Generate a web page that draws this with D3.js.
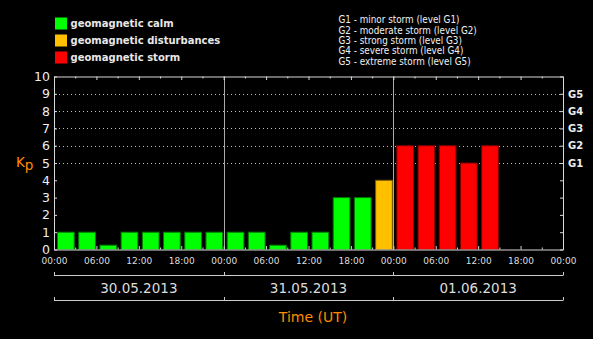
<!DOCTYPE html>
<html>
<head>
<meta charset="utf-8">
<script src="https://cdn.jsdelivr.net/npm/d3@7/dist/d3.min.js"></script>
<style>
  html, body { margin: 0; padding: 0; background: #000; }
  svg { display: block; }
</style>
</head>
<body>
<svg id="chart" width="593" height="339"></svg>
<script>
// Planetary Kp index, one value per 3-hour interval (UT)
const slotHours = [0, 3, 6, 9, 12, 15, 18, 21,
                   24, 27, 30, 33, 36, 39, 42, 45,
                   48, 51, 54, 57, 60];
const kpValues = [1, 1, 0.25, 1, 1, 1, 1, 1,
                  1, 1, 0.25, 1, 1, 3, 3, 4,
                  6, 6, 6, 5, 6];
const dateLabels = ["30.05.2013", "31.05.2013", "01.06.2013"];
const timeLabels = ["00:00", "06:00", "12:00", "18:00"];
const kpTicks = [0, 1, 2, 3, 4, 5, 6, 7, 8, 9, 10];
const stormLevels = [5, 6, 7, 8, 9];
const stormLabels = ["G1", "G2", "G3", "G4", "G5"];
const legendNames = ["geomagnetic calm", "geomagnetic disturbances", "geomagnetic storm"];
const legendColors = ["#00ff00", "#ffc000", "#ff0000"];
const stormDescriptions = [
  "G1 - minor storm (level G1)",
  "G2 - moderate storm (level G2)",
  "G3 - strong storm (level G3)",
  "G4 - severe storm (level G4)",
  "G5 - extreme storm (level G5)"
];

const svg = d3.select("#chart");
const plotL = 54, plotR = 563, plotT = 76.5, plotB = 249.5;
const orange = "#ff8c00";
const axisColor = "#d8d8d8";

const x = d3.scaleLinear().domain([0, 72]).range([plotL, plotR]);
const y = d3.scaleLinear().domain([0, 10]).range([plotB, plotT]);

function barColor(v) { return v >= 5 ? legendColors[2] : v >= 4 ? legendColors[1] : legendColors[0]; }
function barStroke(v) { return v >= 5 ? "#7a0000" : v >= 4 ? "#805c00" : "#007a00"; }

// dotted storm-level grid
svg.append("g").selectAll("line").data(stormLevels).join("line")
  .attr("x1", plotL + 1).attr("x2", plotR - 3)
  .attr("y1", d => Math.round(y(d)) + 0.5).attr("y2", d => Math.round(y(d)) + 0.5)
  .attr("stroke", "#bbb").attr("stroke-width", 1).attr("stroke-dasharray", "1,3");

// day separators
svg.append("g").selectAll("line").data([24, 48]).join("line")
  .attr("x1", d => Math.round(x(d)) + 0.5).attr("x2", d => Math.round(x(d)) + 0.5)
  .attr("y1", plotT).attr("y2", plotB)
  .attr("stroke", "#aaa");

// bars
const slotW = x(3) - x(0);
svg.append("g").selectAll("rect").data(kpValues).join("rect")
  .attr("x", (d, i) => x(slotHours[i]) + 3.5)
  .attr("width", slotW - 4.5)
  .attr("y", d => y(d))
  .attr("height", d => y(0) - y(d))
  .attr("fill", d => barColor(d))
  .attr("stroke", d => barStroke(d))
  .attr("stroke-width", 1);

function styleAxis(g) {
  g.selectAll("path, line").attr("stroke", axisColor);
  g.selectAll("text").attr("fill", "#eee");
}

// left Kp axis
svg.append("g").attr("transform", `translate(${plotL},0)`)
  .call(d3.axisLeft(y).tickValues(kpTicks).tickFormat(d3.format("d"))
    .tickSizeInner(-3).tickSizeOuter(0).tickPadding(4))
  .call(styleAxis)
  .call(g => g.selectAll("text").attr("font-family", "DejaVu Sans").attr("font-size", 12.5));

// right storm-level axis
svg.append("g").attr("transform", `translate(${plotR},0)`)
  .call(d3.axisRight(y).tickValues(kpTicks)
    .tickFormat(d => stormLabels[stormLevels.indexOf(d)] || "")
    .tickSizeInner(-3).tickSizeOuter(0).tickPadding(5))
  .call(styleAxis)
  .call(g => g.selectAll("text").attr("font-family", "DejaVu Sans").attr("font-weight", "bold").attr("font-size", 10));

// top axis: 3-hour ticks, longer every 6 hours
svg.append("g").attr("transform", `translate(0,${plotT})`)
  .call(d3.axisTop(x).tickValues(d3.range(0, 73, 3)).tickFormat("")
    .tickSizeInner(-2).tickSizeOuter(0))
  .call(styleAxis)
  .call(g => g.selectAll(".tick line").attr("y2", d => d % 6 === 0 ? 3.5 : 2));

// bottom time axis
svg.append("g").attr("transform", `translate(0,${plotB})`)
  .call(d3.axisBottom(x).tickValues(d3.range(0, 73, 3))
    .tickFormat(h => h % 6 === 0 ? timeLabels[(h % 24) / 6] : "")
    .tickSizeInner(-3).tickSizeOuter(0).tickPadding(8))
  .call(styleAxis)
  .call(g => g.selectAll(".tick line").attr("y2", d => d % 6 === 0 ? -3.5 : -2))
  .call(g => g.selectAll("text").attr("font-family", "DejaVu Sans").attr("font-size", 9).attr("fill", "#ddd"));

// date brackets
[275.5, 300.5].forEach(yy => {
  svg.append("line").attr("x1", x(0)).attr("x2", x(72)).attr("y1", yy).attr("y2", yy)
    .attr("stroke", "#ccc");
  svg.append("g").selectAll("line").data([0, 24, 48, 72]).join("line")
    .attr("x1", d => Math.round(x(d)) + 0.5).attr("x2", d => Math.round(x(d)) + 0.5)
    .attr("y1", yy - 3.5).attr("y2", yy)
    .attr("stroke", "#ccc");
});
svg.append("g").selectAll("text").data(dateLabels).join("text")
  .attr("x", (d, i) => x(i * 24 + 12)).attr("y", 292.5)
  .attr("text-anchor", "middle")
  .attr("font-family", "DejaVu Sans").attr("font-size", 13.5)
  .attr("fill", "#ddd").text(d => d);

// axis titles
const kp = svg.append("text").attr("x", 16).attr("y", 167)
  .attr("font-family", "DejaVu Sans").attr("font-size", 13.5).attr("fill", orange);
kp.append("tspan").text("K");
kp.append("tspan").attr("dy", 3).text("p");

svg.append("text").attr("x", 313).attr("y", 321.5).attr("text-anchor", "middle")
  .attr("font-family", "DejaVu Sans").attr("font-size", 14).attr("fill", orange)
  .text("Time (UT)");

// colour legend
const leg = svg.append("g");
leg.selectAll("rect").data(legendNames).join("rect")
  .attr("x", 55).attr("y", (d, i) => 17.5 + i * 17)
  .attr("width", 12).attr("height", 12)
  .attr("fill", (d, i) => legendColors[i]);
leg.selectAll("text").data(legendNames).join("text")
  .attr("x", 70.5).attr("y", (d, i) => 27 + i * 17)
  .attr("font-family", "DejaVu Sans").attr("font-weight", "bold").attr("font-size", 10)
  .attr("fill", "#e8e8e8").text(d => d);

// storm scale description
svg.append("g").selectAll("text").data(stormDescriptions).join("text")
  .attr("x", 338.5).attr("y", (d, i) => 23.3 + i * 10.3)
  .attr("font-family", "DejaVu Sans Condensed, DejaVu Sans").attr("font-stretch", "condensed")
  .attr("font-size", 9.8).attr("fill", "#f0f0f0").text(d => d);
</script>
</body>
</html>
